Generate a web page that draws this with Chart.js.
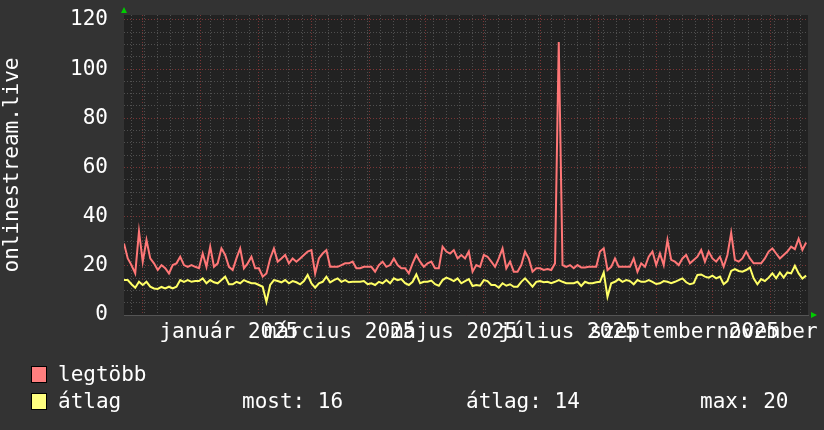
<!DOCTYPE html>
<html>
<head>
<meta charset="utf-8">
<style>
  html, body { margin: 0; padding: 0; background: #333333; }
  #wrap { width: 824px; height: 430px; }
</style>
</head>
<body>
<div id="wrap"><canvas id="chart" width="824" height="430"></canvas></div>
<script src="https://cdn.jsdelivr.net/npm/chart.js@4.4.1/dist/chart.umd.min.js"></script>
<script>
// one value every 2 days, day 0 = 2024-11-21
const stepDays = 2;

const maxValues = [
  29.1, 23.0, 20.3, 16.9, 34.0, 21.7, 30.5, 23.0, 21.0, 18.3,
  20.3, 19.0, 16.9, 20.3, 21.0, 23.7, 20.3, 19.6, 20.3, 19.6,
  19.0, 25.0, 19.6, 27.8, 19.6, 21.0, 27.1, 24.4, 19.6, 18.3,
  23.0, 27.1, 19.0, 21.0, 23.7, 19.0, 19.0, 15.6, 16.9, 23.0,
  27.1, 21.7, 23.0, 24.4, 21.0, 23.0, 21.7, 23.0, 24.4, 25.8,
  26.4, 16.9, 23.0, 25.0, 26.4, 19.6, 19.6, 19.6, 20.3, 21.0,
  21.0, 21.7, 19.0, 19.0, 19.6, 19.6, 19.6, 17.6, 20.3, 21.7,
  19.6, 20.3, 23.0, 20.3, 19.0, 19.0, 16.9, 21.0, 24.4, 21.7,
  19.6, 21.0, 21.7, 19.0, 19.0, 27.8, 25.8, 25.0, 26.4, 23.0,
  24.4, 23.0, 25.8, 17.6, 20.3, 19.6, 24.4, 23.7, 21.7, 19.6,
  23.0, 27.1, 19.0, 21.7, 17.6, 17.6, 20.3, 25.8, 23.0, 17.6,
  19.0, 19.0, 18.3, 18.7, 18.3, 21.0, 111.0, 20.3, 19.6, 20.3,
  19.0, 20.3, 19.3, 19.3, 19.6, 19.6, 19.6, 25.8, 27.1, 18.3,
  19.6, 23.0, 19.6, 19.6, 19.6, 19.6, 23.0, 17.6, 21.0, 19.6,
  23.7, 25.8, 20.3, 25.0, 20.3, 30.5, 22.4, 21.7, 20.3, 23.0,
  24.4, 21.0, 22.4, 23.7, 26.4, 21.7, 25.8, 23.0, 21.7, 23.7,
  19.6, 24.4, 33.4, 22.4, 21.7, 23.0, 25.8, 23.0, 21.0, 21.0,
  21.0, 23.0, 25.8, 27.1, 25.0, 23.0, 24.4, 25.8, 27.8, 26.8,
  31.0, 26.5, 29.5
];

const avgValues = [
  14.2, 14.2, 12.5, 11.1, 13.5, 12.2, 13.5, 11.5, 10.8, 10.6,
  11.4, 10.8, 11.5, 10.8, 11.5, 14.2, 13.5, 14.2, 13.5, 13.8,
  13.8, 14.9, 12.9, 14.2, 13.3, 12.9, 14.2, 15.6, 12.5, 12.5,
  13.5, 12.9, 14.2, 13.5, 12.9, 12.9, 12.2, 11.5, 5.3, 12.2,
  14.2, 13.8, 13.3, 14.2, 12.9, 13.8, 13.3, 12.5, 13.8, 16.3,
  12.9, 11.1, 12.9, 13.5, 15.6, 13.3, 14.2, 14.9, 13.5, 14.2,
  13.3, 13.5, 13.5, 13.5, 13.8, 12.5, 12.9, 12.2, 13.5, 12.9,
  14.2, 12.9, 14.9, 14.2, 14.6, 12.9, 12.2, 13.5, 16.5, 12.9,
  13.5, 13.5, 14.0, 12.5, 11.9, 14.2, 15.2, 14.6, 13.8, 14.9,
  12.9, 13.8, 14.6, 11.8, 12.2, 11.9, 14.2, 13.8, 12.2, 12.2,
  11.1, 12.9, 11.9, 12.5, 11.5, 11.5, 13.5, 14.9, 13.3, 11.5,
  13.5, 13.8, 13.3, 13.5, 12.9, 13.5, 14.2, 13.5, 12.9, 12.9,
  12.9, 13.5, 11.8, 13.5, 12.9, 12.9, 13.3, 13.5, 17.3, 7.4,
  12.9, 13.5, 14.6, 13.5, 14.2, 13.8, 12.5, 14.2, 13.5, 13.5,
  14.2, 13.5, 12.6, 12.9, 13.8, 13.5, 12.9, 13.5, 14.2, 14.9,
  13.3, 12.5, 12.9, 16.3, 16.5, 15.6, 15.2, 16.0, 14.9, 15.6,
  12.5, 13.8, 17.9, 18.7, 17.9, 17.6, 18.3, 19.3, 14.9, 12.5,
  14.6, 13.8, 15.2, 16.9, 14.9, 17.3, 15.2, 17.3, 16.9, 20.0,
  16.9, 14.8, 16.0
];

const labelDays = [56, 115, 176, 237, 299, 360];
const monthLabels = ['január 2025', 'március 2025', 'május 2025', 'július 2025', 'szeptember 2025', 'november 2025'];
const monthStartDays = [10, 41, 72, 100, 131, 161, 192, 222, 253, 284, 314, 345];
const firstMonday = 4;
const yLabelStep = 20;
const yGridStep = 5;

const font = { family: 'DejaVu Sans Mono', size: 21 };
const minorGrid = '#4f4f4f';
const majorGrid = '#7a3535';

const weekDays = [];
for (let d = firstMonday; d < 365; d += 7) weekDays.push(d);
const yGrid = [];
for (let v = 0; v <= 120; v += yGridStep) yGrid.push(v);

const noPad = s => { s.paddingLeft = 0; s.paddingRight = 0; s.paddingTop = 0; s.paddingBottom = 0; };
const toPoints = arr => arr.map((v, i) => ({ x: i * stepDays, y: v }));

const last = avgValues[avgValues.length - 1];
const mean = avgValues.reduce((a, b) => a + b, 0) / avgValues.length;
const peak = Math.max(...avgValues);

const frame = {
  id: 'frame',
  beforeDraw(chart) {
    const { ctx, chartArea: a } = chart;
    ctx.save();
    ctx.fillStyle = '#222222';
    ctx.fillRect(a.left, a.top, a.right - a.left, a.bottom - a.top);
    ctx.restore();
  },
  afterDraw(chart) {
    const { ctx, chartArea: a } = chart;
    ctx.save();
    // arrows
    ctx.fillStyle = '#00cc00';
    ctx.beginPath();
    ctx.moveTo(a.left - 3, a.top - 2); ctx.lineTo(a.left + 3, a.top - 2); ctx.lineTo(a.left, a.top - 8);
    ctx.fill();
    ctx.beginPath();
    ctx.moveTo(a.right + 3, a.bottom - 3); ctx.lineTo(a.right + 3, a.bottom + 3); ctx.lineTo(a.right + 9, a.bottom);
    ctx.fill();
    // legend
    ctx.font = '21px "DejaVu Sans Mono"';
    ctx.textBaseline = 'middle';
    ctx.strokeStyle = '#000';
    ctx.lineWidth = 1;
    ctx.fillStyle = '#ff7f7f';
    ctx.fillRect(31.5, 366.5, 15, 16); ctx.strokeRect(31.5, 366.5, 15, 16);
    ctx.fillStyle = '#ffff7f';
    ctx.fillRect(31.5, 393.5, 15, 16); ctx.strokeRect(31.5, 393.5, 15, 16);
    ctx.fillStyle = '#ffffff';
    ctx.fillText('legtöbb', 58, 376);
    ctx.fillText('átlag', 58, 403);
    ctx.fillText('most: ' + last.toFixed(0), 242, 403);
    ctx.fillText('átlag: ' + mean.toFixed(0), 466, 403);
    ctx.fillText('max: ' + peak.toFixed(0), 700, 403);
    ctx.restore();
  }
};

new Chart(document.getElementById('chart'), {
  type: 'line',
  data: {
    datasets: [
      { label: 'átlag', data: toPoints(avgValues), borderColor: '#ffff66', borderWidth: 2,
        tension: 0, pointRadius: 0, xAxisID: 'x', yAxisID: 'y' },
      { label: 'legtöbb', data: toPoints(maxValues), borderColor: '#ff7777', borderWidth: 2,
        tension: 0, pointRadius: 0, xAxisID: 'x', yAxisID: 'y' }
    ]
  },
  options: {
    responsive: false,
    animation: false,
    layout: { padding: { top: 15, right: 16, bottom: 85, left: 0 } },
    plugins: { legend: { display: false }, tooltip: { enabled: false } },
    scales: {
      x: {
        type: 'linear', position: 'bottom', min: 0, max: 365,
        afterBuildTicks: s => { s.ticks = labelDays.map(v => ({ value: v })); },
        afterFit: s => { s.height = 30; noPad(s); },
        grid: { display: false, drawTicks: false },
        border: { display: true, color: '#555555', width: 1 },
        ticks: { autoSkip: false, maxRotation: 0, minRotation: 0, color: '#ffffff', font, padding: 5,
          callback: (v, i) => monthLabels[i] }
      },
      xw: {
        type: 'linear', position: 'bottom', min: 0, max: 365,
        afterBuildTicks: s => { s.ticks = weekDays.map(v => ({ value: v })); },
        afterFit: s => { s.height = 0; noPad(s); },
        grid: { color: minorGrid, drawTicks: false },
        border: { display: false, dash: [1, 2] },
        ticks: { display: false }
      },
      xm: {
        type: 'linear', position: 'bottom', min: 0, max: 365,
        afterBuildTicks: s => { s.ticks = monthStartDays.map(v => ({ value: v })); },
        afterFit: s => { s.height = 0; noPad(s); },
        grid: { color: majorGrid, drawTicks: false },
        border: { display: false, dash: [1, 2] },
        ticks: { display: false }
      },
      y: {
        type: 'linear', min: 0, max: 122,
        afterBuildTicks: s => { s.ticks = yGrid.map(v => ({ value: v })); },
        afterFit: s => { s.width = 124; noPad(s); },
        grid: { color: c => (c.tick && c.tick.value % yLabelStep === 0) ? majorGrid : minorGrid, drawTicks: false },
        border: { display: false, dash: [1, 2] },
        ticks: { autoSkip: false, color: '#ffffff', font, padding: 16,
          callback: v => (v % yLabelStep === 0 ? String(v) : '') },
        title: { display: true, text: 'onlinestream.live', color: '#ffffff', font, padding: 0 }
      }
    }
  },
  plugins: [frame]
});
</script>
</body>
</html>
